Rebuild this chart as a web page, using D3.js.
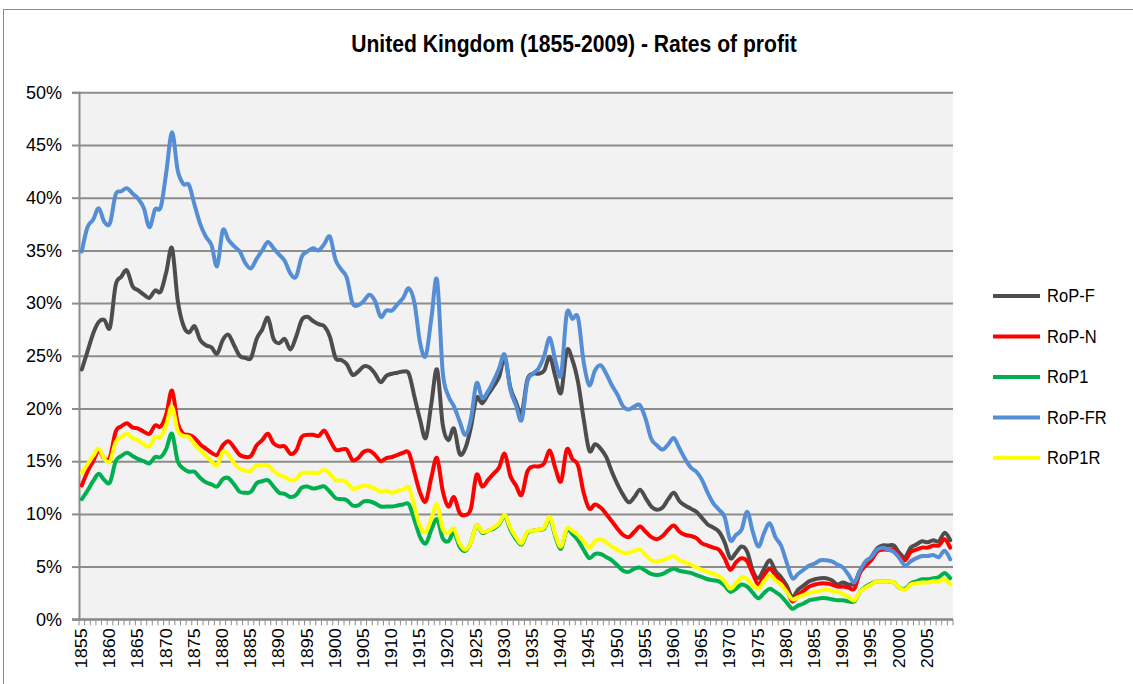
<!DOCTYPE html>
<html>
<head>
<meta charset="utf-8">
<script src="https://cdn.jsdelivr.net/npm/d3@7"></script>
<style>
  body { margin: 0; background: #fff; }
  svg text { font-family: "Liberation Sans", Arial, sans-serif; fill: #000; }
</style>
</head>
<body>
<div id="chart"></div>
<script>
var years = d3.range(1855, 2010)

// rates of profit, in %, one value per year 1855-2009
var rop_f = [23.7,25.4,27.1,28.2,28.4,27.7,31.7,32.5,33.1,31.6,31.2,30.8,30.5,31.2,31.1,33.0,35.2,30.3,27.9,27.2,
  27.8,26.5,26.0,25.8,25.2,26.5,27.0,26.0,25.0,24.8,24.8,26.6,27.5,28.6,26.6,26.2,26.6,25.6,26.8,28.4,
  28.7,28.3,28.0,27.8,26.8,24.8,24.6,24.2,23.2,23.5,24.0,23.9,23.3,22.5,23.1,23.3,23.4,23.5,23.3,21.1,
  18.9,17.2,20.5,23.7,18.5,17.0,18.1,15.7,16.2,18.2,21.0,20.5,21.3,22.1,23.0,24.8,22.0,20.6,19.5,22.7,
  23.3,23.3,23.6,24.9,23.0,21.5,25.5,24.6,22.5,19.0,16.0,16.6,16.2,15.4,14.0,12.8,11.8,11.1,11.6,12.3,
  11.5,10.7,10.4,10.6,11.4,12.0,11.2,10.8,10.5,10.2,9.6,9.0,8.7,8.3,7.3,5.8,6.3,6.9,6.4,4.6,
  3.9,4.8,5.6,4.6,4.0,3.2,2.1,2.8,3.2,3.6,3.8,3.9,3.9,3.7,3.3,3.5,3.3,3.4,4.6,5.3,
  5.9,6.7,7.0,7.0,7.0,6.3,5.9,6.8,7.1,7.4,7.3,7.5,7.4,8.2,7.5]
var rop_n = [12.7,14.0,15.0,16.0,15.2,15.4,17.8,18.3,18.6,18.2,18.1,17.8,17.6,18.4,18.3,19.5,21.7,18.6,17.6,17.5,
  17.2,16.6,16.2,15.8,15.6,16.5,16.9,16.3,15.6,15.4,15.5,16.5,17.0,17.6,16.7,16.4,16.4,15.7,16.0,17.3,
  17.5,17.5,17.4,17.9,17.0,16.1,16.1,16.1,15.1,15.3,15.9,16.0,15.6,15.0,15.3,15.4,15.6,15.8,15.8,13.9,
  12.0,11.2,13.5,15.3,12.2,10.7,11.6,10.1,9.9,10.5,13.7,12.6,13.2,13.8,14.4,15.7,13.6,12.7,11.8,14.0,
  14.5,14.5,14.8,16.0,14.3,13.1,16.1,15.2,14.6,12.0,10.5,10.9,10.6,10.0,9.3,8.6,8.0,7.8,8.3,8.8,
  8.3,7.8,7.6,7.9,8.5,8.9,8.3,8.0,7.9,7.7,7.2,7.0,6.8,6.6,5.8,4.7,5.4,5.8,5.5,4.3,
  3.3,4.2,4.8,4.2,3.6,2.8,1.7,2.3,2.7,3.1,3.3,3.4,3.4,3.3,3.1,3.1,3.0,2.9,4.4,5.1,
  5.6,6.4,6.6,6.6,6.6,6.0,5.6,6.4,6.6,6.8,6.8,7.0,7.0,7.6,6.8]
var rop1 = [11.4,12.2,13.1,13.8,13.2,13.0,15.0,15.5,15.8,15.5,15.2,15.0,14.8,15.4,15.4,16.2,17.6,15.0,14.3,14.0,
  14.0,13.4,13.0,12.8,12.6,13.3,13.4,12.8,12.1,12.0,12.1,12.9,13.1,13.2,12.6,12.0,11.9,11.6,11.8,12.5,
  12.6,12.4,12.5,12.6,12.1,11.5,11.4,11.3,10.8,10.8,11.2,11.2,11.0,10.7,10.7,10.7,10.8,10.9,10.9,9.4,
  7.8,7.2,8.5,9.5,7.7,7.4,8.2,6.9,6.5,7.3,8.9,8.2,8.4,8.6,9.0,9.8,8.5,7.6,7.1,8.2,
  8.4,8.5,8.6,9.6,7.8,6.7,8.5,8.1,7.5,6.6,5.8,6.2,6.2,5.9,5.6,5.1,4.6,4.5,4.8,4.9,
  4.6,4.3,4.2,4.3,4.6,4.8,4.6,4.5,4.4,4.2,4.0,3.8,3.7,3.6,3.2,2.6,2.9,3.3,3.1,2.5,
  2.0,2.5,2.9,2.6,2.2,1.6,1.0,1.3,1.5,1.8,1.9,2.0,2.0,1.9,1.8,1.8,1.7,1.7,2.6,3.1,
  3.4,3.6,3.6,3.6,3.5,3.0,2.9,3.4,3.6,3.8,3.8,3.9,4.0,4.4,3.9]
var rop_fr = [34.9,37.2,37.9,39.0,37.7,37.6,40.3,40.6,40.9,40.4,39.9,39.0,37.2,38.9,39.1,42.5,46.2,42.6,41.3,41.2,
  39.3,37.5,36.3,35.5,33.5,36.9,36.0,35.4,34.9,33.8,33.3,34.2,35.0,35.8,35.2,34.6,34.0,32.8,32.5,34.4,
  34.9,35.2,35.0,35.6,36.3,34.1,33.2,32.4,30.0,29.8,30.2,30.8,30.2,28.7,29.3,29.3,29.9,30.5,31.4,30.0,
  26.2,25.0,28.6,32.2,23.5,21.2,20.2,18.8,17.5,19.0,22.4,21.0,21.6,22.6,23.8,25.1,21.8,20.3,18.9,22.5,
  23.3,23.8,25.0,26.7,24.5,23.2,29.0,28.5,28.6,24.4,22.2,23.6,24.1,23.3,22.2,21.3,20.2,19.9,20.2,20.3,
  19.0,17.1,16.5,16.1,16.6,17.2,16.2,15.2,14.4,14.0,13.2,12.0,11.0,10.4,9.7,7.5,8.0,8.5,10.2,8.3,
  6.9,8.2,9.1,7.8,7.0,5.4,3.9,4.3,4.7,5.1,5.3,5.6,5.6,5.5,5.2,4.9,4.2,3.5,4.6,5.5,
  5.9,6.6,6.8,6.6,6.4,5.8,5.1,5.5,5.8,6.0,6.0,6.1,5.9,6.5,5.7]
var rop1r = [13.9,14.7,15.5,16.2,15.2,15.0,16.8,17.3,17.6,17.2,17.0,16.6,16.4,17.3,17.3,18.5,20.2,17.9,17.4,17.3,
  16.6,16.0,15.5,15.0,14.6,15.9,15.6,14.8,14.3,14.1,14.1,14.6,14.6,14.6,14.1,13.7,13.5,13.2,13.3,13.9,
  13.9,13.9,13.9,14.2,13.8,13.2,13.2,13.0,12.4,12.5,12.7,12.6,12.4,12.1,12.2,12.0,12.2,12.3,12.5,10.7,
  8.8,8.3,9.6,10.9,8.6,8.2,8.6,7.2,6.6,7.3,8.9,8.3,8.4,8.7,9.1,9.9,8.7,7.8,7.2,8.3,
  8.4,8.5,8.7,9.7,8.0,6.9,8.6,8.4,8.0,7.4,6.8,7.4,7.6,7.3,6.9,6.6,6.3,6.3,6.5,6.6,
  6.1,5.6,5.5,5.6,5.8,6.0,5.6,5.4,5.2,4.9,4.7,4.5,4.3,4.1,3.6,2.9,3.4,4.0,3.8,3.2,
  2.9,3.6,4.2,3.7,3.3,2.6,1.9,2.1,2.3,2.5,2.6,2.7,2.8,2.7,2.6,2.4,2.1,1.8,2.6,3.0,
  3.3,3.6,3.6,3.6,3.5,3.0,2.8,3.3,3.4,3.5,3.5,3.6,3.6,3.8,3.3]

var series_names = ["RoP-F", "RoP-N", "RoP1", "RoP-FR", "RoP1R"]
var series_values = [rop_f, rop_n, rop1, rop_fr, rop1r]
var series_colors = ["#4d4d4d", "#ff0000", "#00b050", "#558ed5", "#ffff00"]
var y_ticks = [0, 5, 10, 15, 20, 25, 30, 35, 40, 45, 50]

var W = 1133, H = 684
var plotL = 79, plotR = 953, plotT = 92.3, plotB = 619.3
var sx = 0.88 // the picture is squeezed sideways, text too

var svg = d3.select("#chart").append("svg")
    .attr("width", W)
    .attr("height", H)

// frame round the chart
svg.append("rect")
    .attr("x", 3.5).attr("y", 9.5)
    .attr("width", 1200).attr("height", 800)
    .attr("fill", "#fff")
    .attr("stroke", "#8c8c8c")
    .attr("stroke-width", 1)

// title
svg.append("text")
    .attr("transform", "translate(574,52) scale(0.88,1)")
    .attr("text-anchor", "middle")
    .style("font-size", "24px")
    .style("font-weight", "bold")
    .text("United Kingdom (1855-2009) - Rates of profit")

var xScale = d3.scaleBand()
    .domain(years)
    .range([plotL, plotR])
    .padding(0)
var bw = xScale.bandwidth()

var yScale = d3.scaleLinear()
    .domain([0, 50])
    .range([plotB, plotT])

// plot area
svg.append("rect")
    .attr("x", plotL).attr("y", plotT)
    .attr("width", plotR - plotL).attr("height", plotB - plotT)
    .attr("fill", "#f2f2f2")

// gridlines
svg.append("g")
    .attr("transform", "translate(" + plotL + ",0)")
    .call(d3.axisLeft(yScale).tickValues(y_ticks).tickSize(-(plotR - plotL)).tickFormat(""))
    .call(function (g) { g.select(".domain").remove() })
    .selectAll(".tick line")
    .attr("stroke", "#8c8c8c")
    .attr("stroke-width", 2)

// y axis
var yAxis = svg.append("g")
    .attr("transform", "translate(" + plotL + ",0)")
    .call(d3.axisLeft(yScale).tickValues(y_ticks).tickSize(7).tickPadding(10)
        .tickFormat(function (d) { return d + "%" }))
yAxis.select(".domain").attr("stroke", "#8c8c8c").attr("stroke-width", 2)
yAxis.selectAll(".tick line").attr("stroke", "#8c8c8c").attr("stroke-width", 2)
yAxis.selectAll(".tick text")
    .style("font-size", "18px")
    .attr("fill", "#000")

// x axis: small marks between the years
var xAxis = svg.append("g")
    .attr("transform", "translate(0," + plotB + ")")
xAxis.append("line")
    .attr("x1", plotL - 7).attr("x2", plotR)
    .attr("stroke", "#8c8c8c").attr("stroke-width", 2)
xAxis.selectAll(".mark")
    .data(years.concat([2010]))
    .enter()
    .append("line")
    .attr("class", "mark")
    .attr("x1", function (d) { return d == 2010 ? plotR : xScale(d) })
    .attr("x2", function (d) { return d == 2010 ? plotR : xScale(d) })
    .attr("y1", 0).attr("y2", 6)
    .attr("stroke", "#8c8c8c").attr("stroke-width", 1)

// x labels every 5 years
var xLabels = svg.append("g")
    .attr("transform", "translate(0," + plotB + ")")
    .call(d3.axisBottom(xScale)
        .tickValues(years.filter(function (d) { return (d - 1855) % 5 == 0 }))
        .tickSize(0))
xLabels.select(".domain").remove()
xLabels.selectAll(".tick text")
    .attr("y", 0).attr("dy", 0)
    .attr("transform", "translate(0,9) rotate(-90) scale(1," + sx + ")")
    .attr("text-anchor", "end")
    .attr("dominant-baseline", "central")
    .attr("fill", "#000")
    .style("font-size", "18px")

// lines
var line = d3.line()
    .x(function (d, i) { return xScale(years[i]) + bw / 2 })
    .y(function (d) { return yScale(d) })
    .curve(d3.curveCardinal.tension(0))

svg.append("g")
    .selectAll("path")
    .data(series_values)
    .enter()
    .append("path")
    .attr("d", function (d) { return line(d) })
    .attr("fill", "none")
    .attr("stroke", function (d, i) { return series_colors[i] })
    .attr("stroke-width", 4)
    .attr("stroke-linejoin", "round")
    .attr("stroke-linecap", "round")

// legend
var legend = svg.append("g")
    .attr("transform", "translate(993,296)")
legend.selectAll("line")
    .data(series_names)
    .enter()
    .append("line")
    .attr("x1", 0).attr("x2", 47)
    .attr("y1", function (d, i) { return i * 40.5 })
    .attr("y2", function (d, i) { return i * 40.5 })
    .attr("stroke", function (d, i) { return series_colors[i] })
    .attr("stroke-width", 4)
legend.selectAll("text")
    .data(series_names)
    .enter()
    .append("text")
    .attr("transform", function (d, i) { return "translate(54," + (i * 40.5 + 6) + ") scale(0.92,1)" })
    .style("font-size", "18px")
    .text(function (d) { return d })
</script>
</body>
</html>
